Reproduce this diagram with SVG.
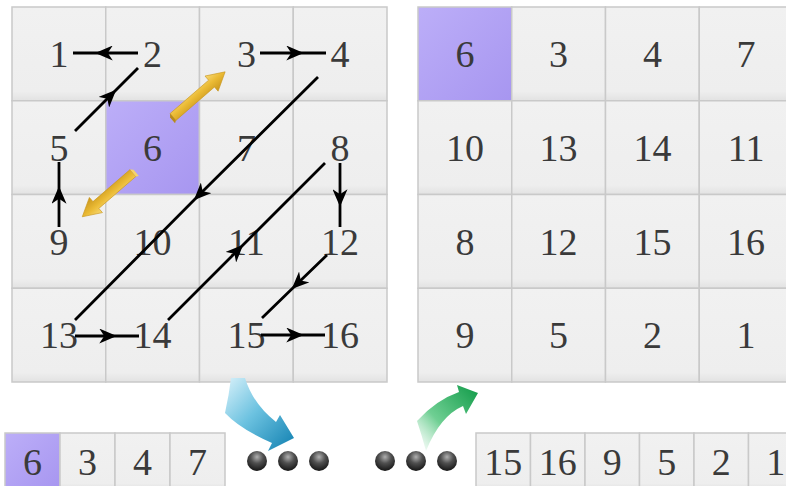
<svg xmlns="http://www.w3.org/2000/svg" width="786" height="486" viewBox="0 0 786 486">
<style>
.c{fill:url(#cg);stroke:#c9c9c9;stroke-width:1.5}
.p{fill:url(#pg);stroke:#c9c9c9;stroke-width:1.5}
.t{font-family:"Liberation Serif","Times New Roman",serif;font-size:38px;fill:#3a3a3a;text-anchor:middle}
.a{fill:none;stroke:#000;stroke-width:2.8;marker-mid:url(#ah)}
</style>
<defs>
<linearGradient id="cg" x1="0" y1="0" x2="0" y2="1">
<stop offset="0" stop-color="#f1f1f1"/><stop offset="0.9" stop-color="#eeeeee"/><stop offset="1" stop-color="#e2e2e2"/>
</linearGradient>
<linearGradient id="pg" x1="0" y1="0" x2="1" y2="1">
<stop offset="0" stop-color="#bcaef8"/><stop offset="1" stop-color="#a796f0"/>
</linearGradient>
<marker id="ah" viewBox="0 0 14 12" refX="7" refY="6" markerWidth="18" markerHeight="15" markerUnits="userSpaceOnUse" orient="auto">
<path d="M14,6 L0,0 L4,6 L0,12 Z" fill="#000"/>
</marker>
<linearGradient id="yg" x1="0" y1="0" x2="0" y2="1">
<stop offset="0" stop-color="#f7d874"/><stop offset="0.45" stop-color="#ebbb35"/><stop offset="1" stop-color="#c9961c"/>
</linearGradient>
<linearGradient id="bg" x1="0" y1="0" x2="1" y2="1">
<stop offset="0" stop-color="#d8f1fa"/><stop offset="0.45" stop-color="#6cc2e0"/><stop offset="1" stop-color="#0f7fb0"/>
</linearGradient>
<linearGradient id="gg" x1="0" y1="1" x2="1" y2="0">
<stop offset="0" stop-color="#ffffff" stop-opacity="0.6"/><stop offset="0.4" stop-color="#6fcf93"/><stop offset="1" stop-color="#0f9a47"/>
</linearGradient>
<radialGradient id="ball" cx="0.5" cy="0.3" r="0.7">
<stop offset="0" stop-color="#b0b0b0"/><stop offset="0.45" stop-color="#505050"/><stop offset="1" stop-color="#151515"/>
</radialGradient>
</defs>

<g id="left-grid">
<g id="L1"><rect class="c" x="12" y="7" width="93.75" height="93.75"/><text class="t" x="58.9" y="67">1</text></g>
<g id="L2"><rect class="c" x="105.75" y="7" width="93.75" height="93.75"/><text class="t" x="152.6" y="67">2</text></g>
<g id="L3"><rect class="c" x="199.5" y="7" width="93.75" height="93.75"/><text class="t" x="246.4" y="67">3</text></g>
<g id="L4"><rect class="c" x="293.25" y="7" width="93.75" height="93.75"/><text class="t" x="340.1" y="67">4</text></g>
<g id="L5"><rect class="c" x="12" y="100.75" width="93.75" height="93.75"/><text class="t" x="58.9" y="161">5</text></g>
<g id="L6"><rect class="p" x="105.75" y="100.75" width="93.75" height="93.75"/><text class="t" x="152.6" y="161">6</text></g>
<g id="L7"><rect class="c" x="199.5" y="100.75" width="93.75" height="93.75"/><text class="t" x="246.4" y="161">7</text></g>
<g id="L8"><rect class="c" x="293.25" y="100.75" width="93.75" height="93.75"/><text class="t" x="340.1" y="161">8</text></g>
<g id="L9"><rect class="c" x="12" y="194.5" width="93.75" height="93.75"/><text class="t" x="58.9" y="254.5">9</text></g>
<g id="L10"><rect class="c" x="105.75" y="194.5" width="93.75" height="93.75"/><text class="t" x="152.6" y="254.5">10</text></g>
<g id="L11"><rect class="c" x="199.5" y="194.5" width="93.75" height="93.75"/><text class="t" x="246.4" y="254.5">11</text></g>
<g id="L12"><rect class="c" x="293.25" y="194.5" width="93.75" height="93.75"/><text class="t" x="340.1" y="254.5">12</text></g>
<g id="L13"><rect class="c" x="12" y="288.25" width="93.75" height="93.75"/><text class="t" x="58.9" y="348">13</text></g>
<g id="L14"><rect class="c" x="105.75" y="288.25" width="93.75" height="93.75"/><text class="t" x="152.6" y="348">14</text></g>
<g id="L15"><rect class="c" x="199.5" y="288.25" width="93.75" height="93.75"/><text class="t" x="246.4" y="348">15</text></g>
<g id="L16"><rect class="c" x="293.25" y="288.25" width="93.75" height="93.75"/><text class="t" x="340.1" y="348">16</text></g>
</g>

<g id="right-grid">
<g id="R1"><rect class="p" x="418" y="7" width="93.75" height="93.75"/><text class="t" x="464.9" y="67">6</text></g>
<g id="R2"><rect class="c" x="511.75" y="7" width="93.75" height="93.75"/><text class="t" x="558.6" y="67">3</text></g>
<g id="R3"><rect class="c" x="605.5" y="7" width="93.75" height="93.75"/><text class="t" x="652.4" y="67">4</text></g>
<g id="R4"><rect class="c" x="699.25" y="7" width="93.75" height="93.75"/><text class="t" x="746.1" y="67">7</text></g>
<g id="R5"><rect class="c" x="418" y="100.75" width="93.75" height="93.75"/><text class="t" x="464.9" y="161">10</text></g>
<g id="R6"><rect class="c" x="511.75" y="100.75" width="93.75" height="93.75"/><text class="t" x="558.6" y="161">13</text></g>
<g id="R7"><rect class="c" x="605.5" y="100.75" width="93.75" height="93.75"/><text class="t" x="652.4" y="161">14</text></g>
<g id="R8"><rect class="c" x="699.25" y="100.75" width="93.75" height="93.75"/><text class="t" x="746.1" y="161">11</text></g>
<g id="R9"><rect class="c" x="418" y="194.5" width="93.75" height="93.75"/><text class="t" x="464.9" y="254.5">8</text></g>
<g id="R10"><rect class="c" x="511.75" y="194.5" width="93.75" height="93.75"/><text class="t" x="558.6" y="254.5">12</text></g>
<g id="R11"><rect class="c" x="605.5" y="194.5" width="93.75" height="93.75"/><text class="t" x="652.4" y="254.5">15</text></g>
<g id="R12"><rect class="c" x="699.25" y="194.5" width="93.75" height="93.75"/><text class="t" x="746.1" y="254.5">16</text></g>
<g id="R13"><rect class="c" x="418" y="288.25" width="93.75" height="93.75"/><text class="t" x="464.9" y="348">9</text></g>
<g id="R14"><rect class="c" x="511.75" y="288.25" width="93.75" height="93.75"/><text class="t" x="558.6" y="348">5</text></g>
<g id="R15"><rect class="c" x="605.5" y="288.25" width="93.75" height="93.75"/><text class="t" x="652.4" y="348">2</text></g>
<g id="R16"><rect class="c" x="699.25" y="288.25" width="93.75" height="93.75"/><text class="t" x="746.1" y="348">1</text></g>
</g>

<g id="strip-left">
<g id="S1"><rect class="p" x="5" y="433" width="55" height="56"/><text class="t" x="32.5" y="475">6</text></g>
<g id="S2"><rect class="c" x="60" y="433" width="55" height="56"/><text class="t" x="87.5" y="475">3</text></g>
<g id="S3"><rect class="c" x="115" y="433" width="55" height="56"/><text class="t" x="142.5" y="475">4</text></g>
<g id="S4"><rect class="c" x="170" y="433" width="55" height="56"/><text class="t" x="197.5" y="475">7</text></g>
</g>

<g id="strip-right">
<g id="T1"><rect class="c" x="476" y="433" width="54.5" height="56"/><text class="t" x="503.25" y="475">15</text></g>
<g id="T2"><rect class="c" x="530.5" y="433" width="54.5" height="56"/><text class="t" x="557.75" y="475">16</text></g>
<g id="T3"><rect class="c" x="585" y="433" width="54.5" height="56"/><text class="t" x="612.25" y="475">9</text></g>
<g id="T4"><rect class="c" x="639.5" y="433" width="54.5" height="56"/><text class="t" x="666.75" y="475">5</text></g>
<g id="T5"><rect class="c" x="694" y="433" width="54.5" height="56"/><text class="t" x="721.25" y="475">2</text></g>
<g id="T6"><rect class="c" x="748.5" y="433" width="54.5" height="56"/><text class="t" x="775.75" y="475">1</text></g>
</g>

<g id="connectors">
<path class="a" d="M138,53 L104,53 L73,53"/>
<path class="a" d="M75,131 L110,96 L138,68"/>
<path class="a" d="M59,227 L59,195 L59,162"/>
<path class="a" d="M260,53 L295,53 L326,53"/>
<path class="a" d="M318,77 L200,194 L75,320"/>
<path class="a" d="M75,336 L108,336 L139,336"/>
<path class="a" d="M168,320 L237,251 L325,163"/>
<path class="a" d="M340,163 L340,198 L340,227"/>
<path class="a" d="M327,255 L298,283 L262,318"/>
<path class="a" d="M261,335 L295,335 L325,335"/>
</g>

<g id="swap-arrows">
<g transform="translate(173,117) rotate(-40.9)">
<path d="M0,-4.5 L51,-4.5 L51,-10 L69,0 L51,10 L51,4.5 L0,4.5 Z" fill="url(#yg)" stroke="#c9961c" stroke-width="0.6"/>
<path d="M0,-4.5 L-2.5,-1.5 L-2.5,6 L0,4.5 Z" fill="#b88a18"/>
</g>
<g transform="translate(133,173) rotate(139.2)">
<path d="M0,-4.5 L49,-4.5 L49,-10 L67,0 L49,10 L49,4.5 L0,4.5 Z" fill="url(#yg)" stroke="#c9961c" stroke-width="0.6"/>
<path d="M0,-4.5 L-2.5,-6 L-2.5,2 L0,4.5 Z" fill="#f5d46a"/>
</g>
</g>

<g id="flow-arrows">
<path d="M231,378 L245,378 Q253,404 276,422 L280,415 L294,438 L268,451 L272,443 Q240,429 225,413 Q229,395 231,378 Z" fill="url(#bg)"/>
<path d="M426,451 Q422,436 417,421 Q436,400 459,392 L457,385 L478,393 L466,414 L463,406 Q440,416 426,451 Z" fill="url(#gg)"/>
</g>

<g id="ellipsis-left">
<circle cx="257" cy="461" r="10" fill="url(#ball)"/>
<circle cx="288" cy="461" r="10" fill="url(#ball)"/>
<circle cx="319" cy="461" r="10" fill="url(#ball)"/>
</g>
<g id="ellipsis-right">
<circle cx="385" cy="461" r="10" fill="url(#ball)"/>
<circle cx="416" cy="461" r="10" fill="url(#ball)"/>
<circle cx="447" cy="461" r="10" fill="url(#ball)"/>
</g>
</svg>
